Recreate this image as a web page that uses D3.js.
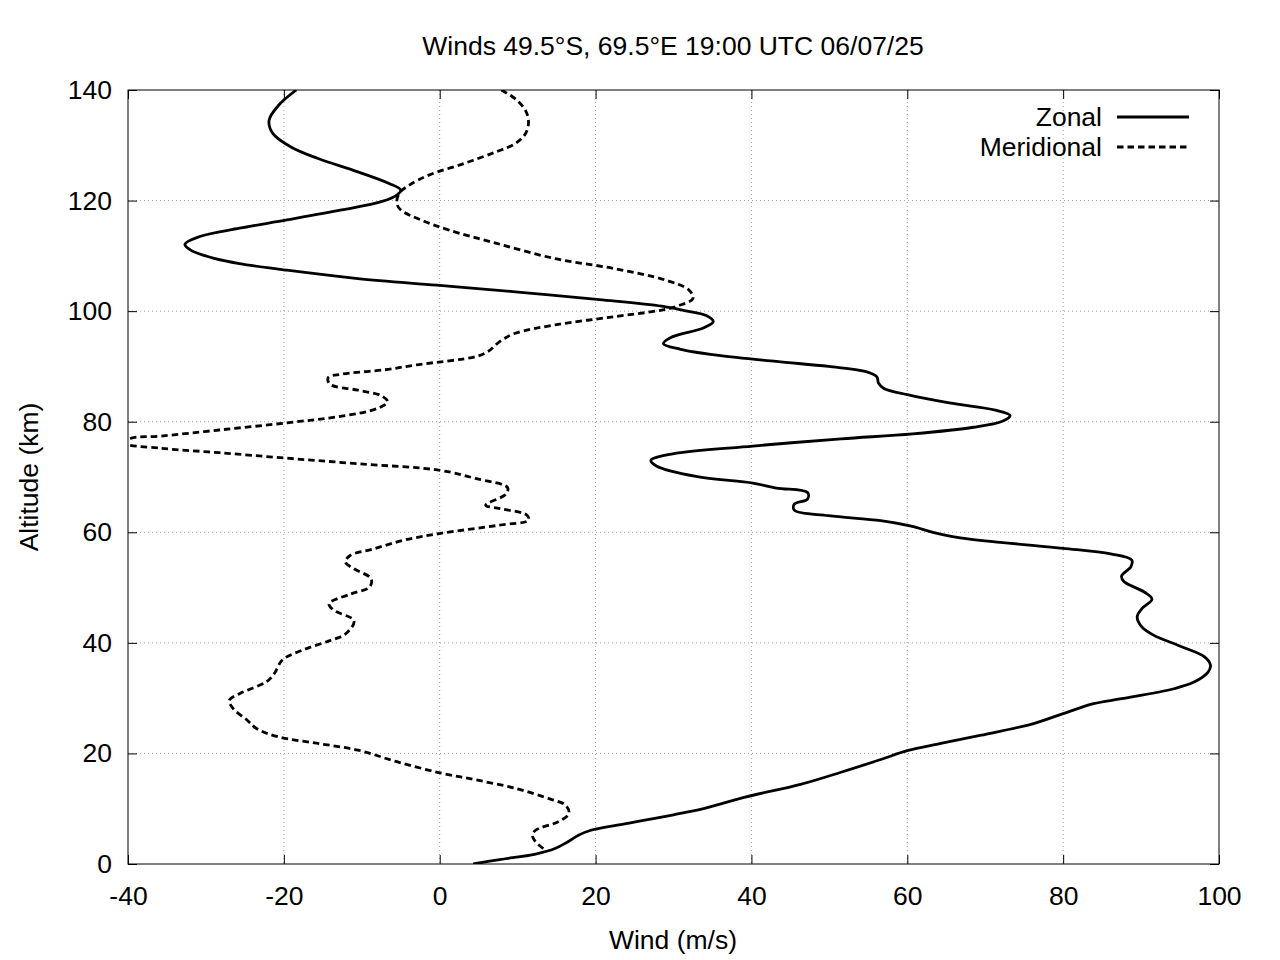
<!DOCTYPE html>
<html>
<head>
<meta charset="utf-8">
<script src="https://cdn.jsdelivr.net/npm/d3@7"></script>
<style>
  body { margin: 0; background: #fff; }
  svg text { font-family: "Liberation Sans", Arial, sans-serif; fill: #000; }
</style>
</head>
<body>
<svg id="chart" width="1280" height="960"></svg>
<script>
// zonal wind profile (altitude km, wind m/s)
const zonalAlt = [0, 0.8, 1.8, 2.8, 3.9, 5.2, 6.1, 7.3, 8.9, 10.1, 12.1, 14.4, 16.6, 18.9, 20.5, 21.8, 23.3, 25.4, 27.2, 29.0, 29.9, 31.7, 32.9, 34.7, 36.0, 37.5, 39.3, 41.4, 42.9, 44.7, 46.2, 47.9, 49.2, 51.1, 52.1, 53.8, 55.0, 56.1, 57.1, 58.1, 59.0, 60.0, 61.1, 62.1, 63.0, 64.0, 65.1, 66.0, 67.2, 68.0, 68.9, 70.1, 72.0, 73.0, 74.2, 75.6, 76.9, 77.8, 79.0, 80.1, 81.1, 82.1, 83.4, 84.9, 86.0, 87.0, 88.1, 89.1, 90.0, 90.9, 92.0, 93.1, 94.1, 95.2, 97.0, 98.1, 99.2, 100.1, 100.9, 102.1, 103.5, 104.7, 105.9, 107.4, 108.6, 109.5, 111.0, 112.1, 113.5, 115.0, 116.5, 118.3, 119.8, 121.0, 121.9, 123.1, 125.2, 127.6, 129.7, 132.1, 134.5, 137.2, 140];
const zonalWind = [4.3, 7.7, 12.3, 14.8, 16.3, 17.8, 19.4, 23.9, 30.0, 34.1, 39.2, 46.3, 51.5, 56.6, 60.0, 64.3, 69.5, 76.2, 80.0, 83.9, 87.5, 94.2, 96.8, 98.6, 98.9, 98.1, 95.2, 91.6, 90.1, 89.5, 90.1, 91.4, 90.4, 87.8, 87.5, 88.7, 88.8, 86.1, 80.0, 72.6, 66.8, 63.3, 60.5, 56.6, 49.9, 45.5, 45.5, 47.2, 47.2, 43.2, 40.2, 32.9, 27.8, 27.1, 29.9, 40.2, 51.5, 60.7, 68.5, 72.2, 73.2, 71.3, 65.4, 60.0, 57.0, 56.3, 56.1, 54.6, 49.9, 43.2, 35.8, 30.9, 28.7, 29.6, 33.9, 35.1, 34.2, 31.4, 28.5, 20.5, 9.7, -0.4, -10.5, -19.6, -25.7, -28.8, -31.9, -32.7, -30.8, -25.7, -19.6, -12.6, -7.5, -5.5, -5.0, -6.5, -10.5, -15.6, -19.1, -21.4, -21.9, -20.7, -18.4];

// meridional wind profile
const meridAlt = [2.8, 4.0, 5.2, 6.1, 7.7, 9.2, 10.7, 11.7, 13.7, 15.2, 16.5, 18.5, 20.6, 21.8, 23.0, 24.5, 26.0, 28.1, 29.6, 30.8, 33.0, 34.5, 36.9, 38.8, 40.4, 41.6, 44.0, 45.9, 47.1, 48.8, 50.1, 51.6, 53.4, 54.6, 55.8, 57.0, 58.6, 59.8, 61.3, 62.2, 63.1, 64.3, 64.9, 66.9, 68.1, 69.7, 71.2, 72.4, 73.4, 74.4, 75.2, 76.1, 77.0, 77.4, 78.5, 79.8, 81.0, 82.4, 83.6, 84.7, 85.7, 86.8, 88.0, 88.6, 89.4, 90.3, 91.8, 92.7, 94.5, 96.0, 97.5, 99.0, 100.2, 101.0, 102.3, 103.8, 105.6, 107.7, 109.5, 112.3, 114.7, 116.5, 118.3, 119.5, 121.3, 122.8, 124.6, 126.7, 128.8, 130.3, 132.1, 134.2, 136.3, 138.4, 140];
const meridWind = [13.3, 12.3, 11.9, 12.3, 15.3, 16.6, 16.1, 14.3, 9.7, 4.7, 0, -5.5, -10.5, -15.6, -20.7, -23.5, -24.7, -26.5, -27.0, -25.7, -22.2, -21.2, -20.2, -17.4, -14.1, -12.1, -11.0, -13.6, -14.2, -11.5, -9.0, -8.8, -11.0, -12.1, -11.5, -8.5, -4.5, 0.1, 7.7, 11.4, 11.2, 7.7, 5.9, 8.5, 8.7, 4.7, 0.1, -10.5, -19.6, -28.3, -35.8, -40.5, -39.6, -35.8, -28.3, -19.6, -12.6, -8.0, -6.7, -7.5, -10.5, -14.1, -14.3, -12.6, -7.0, -2.9, 4.7, 6.2, 7.7, 9.7, 14.8, 22.4, 28.5, 30.7, 32.5, 32.0, 29.0, 22.4, 14.8, 7.2, 1.1, -2.4, -5.0, -5.5, -5.2, -3.9, -1.4, 3.1, 7.2, 9.7, 11.0, 11.4, 11.0, 9.7, 7.9];

const xTicks = [-40, -20, 0, 20, 40, 60, 80, 100];
const yTicks = [0, 20, 40, 60, 80, 100, 120, 140];
const seriesNames = ["Zonal", "Meridional"];
const title = "Winds 49.5°S, 69.5°E 19:00 UTC 06/07/25";

const plotLeft = 128, plotRight = 1219, plotTop = 90, plotBottom = 864;
const fontSize = 26.5;

const svg = d3.select("#chart");

let x = d3.scaleLinear().domain([-40, 100]).range([plotLeft, plotRight]);
let y = d3.scaleLinear().domain([0, 140]).range([plotBottom, plotTop]);

// grid
let grid = svg.append("g");
grid.selectAll(".gx")
  .data(xTicks.slice(1, -1))
  .enter().append("line")
    .attr("x1", d => x(d)).attr("x2", d => x(d))
    .attr("y1", plotTop).attr("y2", plotBottom)
    .attr("stroke", "#a0a0a0").attr("stroke-width", 1)
    .attr("stroke-dasharray", "1,3");
grid.selectAll(".gy")
  .data(yTicks.slice(1, -1))
  .enter().append("line")
    .attr("y1", d => y(d)).attr("y2", d => y(d))
    .attr("x1", plotLeft).attr("x2", plotRight)
    .attr("stroke", "#a0a0a0").attr("stroke-width", 1)
    .attr("stroke-dasharray", "1,3");

// axes with inward ticks on all four sides
let fmt = d => String(d);
let xAxis = d3.axisBottom(x).tickValues(xTicks).tickSize(-9).tickPadding(22).tickFormat(fmt);
let yAxis = d3.axisLeft(y).tickValues(yTicks).tickSize(-9).tickPadding(16).tickFormat(fmt);

svg.append("g").attr("transform", `translate(0,${plotBottom})`).call(xAxis)
  .call(g => g.select(".domain").remove());
svg.append("g").attr("transform", `translate(${plotLeft},0)`).call(yAxis)
  .call(g => g.select(".domain").remove());
svg.append("g").attr("transform", `translate(0,${plotTop})`)
  .call(d3.axisTop(x).tickValues(xTicks).tickSize(-9).tickFormat(""))
  .call(g => g.select(".domain").remove());
svg.append("g").attr("transform", `translate(${plotRight},0)`)
  .call(d3.axisRight(y).tickValues(yTicks).tickSize(-9).tickFormat(""))
  .call(g => g.select(".domain").remove());

svg.selectAll(".tick line").attr("stroke", "#000").attr("stroke-width", 1);
svg.selectAll(".tick text")
  .style("font-size", fontSize + "px")
  .style("font-family", '"Liberation Sans", Arial, sans-serif')
  .attr("fill", "#000");

svg.append("rect")
  .attr("x", plotLeft).attr("y", plotTop)
  .attr("width", plotRight - plotLeft).attr("height", plotBottom - plotTop)
  .attr("fill", "none").attr("stroke", "#000").attr("stroke-width", 1);

// curves
svg.append("clipPath").attr("id", "clip")
  .append("rect").attr("x", plotLeft).attr("y", plotTop)
  .attr("width", plotRight - plotLeft).attr("height", plotBottom - plotTop);

let line = d3.line()
  .x(d => x(d[1]))
  .y(d => y(d[0]))
  .curve(d3.curveCatmullRom.alpha(0.5));

let plot = svg.append("g").attr("clip-path", "url(#clip)");
plot.append("path")
  .datum(zonalAlt.map((a, i) => [a, zonalWind[i]]))
  .attr("d", line)
  .attr("fill", "none").attr("stroke", "#000").attr("stroke-width", 2.8)
  .attr("stroke-linejoin", "miter");
plot.append("path")
  .datum(meridAlt.map((a, i) => [a, meridWind[i]]))
  .attr("d", line)
  .attr("fill", "none").attr("stroke", "#000").attr("stroke-width", 2.8)
  .attr("stroke-dasharray", "6.5,4");

// legend
let legend = svg.append("g");
seriesNames.forEach((name, i) => {
  let ly = 117 + i * 30;
  legend.append("text")
    .attr("x", 1102).attr("y", ly)
    .attr("dy", "0.35em")
    .attr("text-anchor", "end")
    .style("font-size", fontSize + "px")
    .text(name);
  legend.append("line")
    .attr("x1", 1117).attr("x2", 1189)
    .attr("y1", ly).attr("y2", ly)
    .attr("stroke", "#000").attr("stroke-width", 2.8)
    .attr("stroke-dasharray", i == 1 ? "6.5,4" : null);
});

// title and axis labels
svg.append("text")
  .attr("x", 673).attr("y", 46).attr("dy", "0.35em")
  .attr("text-anchor", "middle")
  .style("font-size", fontSize + "px")
  .text(title);

svg.append("text")
  .attr("x", 673).attr("y", 940).attr("dy", "0.35em")
  .attr("text-anchor", "middle")
  .style("font-size", fontSize + "px")
  .text("Wind (m/s)");

svg.append("text")
  .attr("transform", "translate(29,477) rotate(-90)")
  .attr("dy", "0.35em")
  .attr("text-anchor", "middle")
  .style("font-size", fontSize + "px")
  .text("Altitude (km)");
</script>
</body>
</html>
